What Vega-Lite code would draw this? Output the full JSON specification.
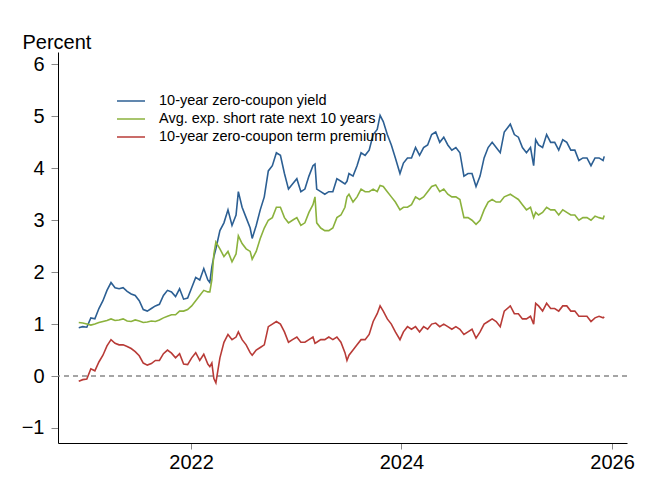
{
  "$schema": "https://vega.github.io/schema/vega-lite/v6.json",
  "width": 569,
  "height": 391,
  "autosize": {"type": "none"},
  "padding": {"left": 58, "top": 52, "right": 43, "bottom": 57},
  "background": "white",
  "config": {
    "view": {"stroke": null},
    "font": "Liberation Sans"
  },
  "layer": [
    {
      "data": {"values": [{"v": 0}]},
      "mark": {"type": "rule", "color": "#888888", "strokeWidth": 1.3, "strokeDash": [5, 4]},
      "encoding": {"y": {"field": "v", "type": "quantitative", "scale": {"domain": [-1.29, 6.24], "nice": false, "zero": false}}}
    },
    {
      "data": {"values": [
        {"d":"2020-12-07","y":0.93,"s":1.03,"p":-0.10},
        {"d":"2020-12-21","y":0.95,"s":1.02,"p":-0.07},
        {"d":"2021-01-04","y":0.94,"s":1.00,"p":-0.06},
        {"d":"2021-01-18","y":1.12,"s":0.98,"p":0.14},
        {"d":"2021-02-01","y":1.10,"s":1.00,"p":0.10},
        {"d":"2021-02-15","y":1.30,"s":1.03,"p":0.27},
        {"d":"2021-03-01","y":1.45,"s":1.05,"p":0.40},
        {"d":"2021-03-15","y":1.65,"s":1.07,"p":0.58},
        {"d":"2021-03-29","y":1.80,"s":1.10,"p":0.70},
        {"d":"2021-04-12","y":1.70,"s":1.07,"p":0.63},
        {"d":"2021-04-26","y":1.68,"s":1.08,"p":0.60},
        {"d":"2021-05-10","y":1.70,"s":1.10,"p":0.60},
        {"d":"2021-05-24","y":1.63,"s":1.06,"p":0.57},
        {"d":"2021-06-07","y":1.58,"s":1.05,"p":0.53},
        {"d":"2021-06-21","y":1.55,"s":1.08,"p":0.47},
        {"d":"2021-07-05","y":1.45,"s":1.06,"p":0.39},
        {"d":"2021-07-19","y":1.28,"s":1.03,"p":0.25},
        {"d":"2021-08-02","y":1.25,"s":1.04,"p":0.21},
        {"d":"2021-08-16","y":1.30,"s":1.06,"p":0.24},
        {"d":"2021-08-30","y":1.35,"s":1.05,"p":0.30},
        {"d":"2021-09-13","y":1.38,"s":1.08,"p":0.30},
        {"d":"2021-09-27","y":1.55,"s":1.12,"p":0.43},
        {"d":"2021-10-11","y":1.65,"s":1.15,"p":0.50},
        {"d":"2021-10-25","y":1.62,"s":1.18,"p":0.44},
        {"d":"2021-11-08","y":1.53,"s":1.18,"p":0.35},
        {"d":"2021-11-22","y":1.68,"s":1.25,"p":0.43},
        {"d":"2021-12-06","y":1.48,"s":1.25,"p":0.23},
        {"d":"2021-12-20","y":1.50,"s":1.28,"p":0.22},
        {"d":"2022-01-03","y":1.70,"s":1.35,"p":0.35},
        {"d":"2022-01-17","y":1.90,"s":1.45,"p":0.45},
        {"d":"2022-01-31","y":1.85,"s":1.55,"p":0.30},
        {"d":"2022-02-14","y":2.07,"s":1.65,"p":0.42},
        {"d":"2022-02-28","y":1.85,"s":1.62,"p":0.23},
        {"d":"2022-03-07","y":1.80,"s":1.62,"p":0.18},
        {"d":"2022-03-14","y":2.10,"s":1.85,"p":0.25},
        {"d":"2022-03-21","y":2.30,"s":2.35,"p":-0.05},
        {"d":"2022-03-28","y":2.45,"s":2.58,"p":-0.13},
        {"d":"2022-04-11","y":2.80,"s":2.45,"p":0.35},
        {"d":"2022-04-25","y":2.95,"s":2.30,"p":0.65},
        {"d":"2022-05-09","y":3.20,"s":2.40,"p":0.80},
        {"d":"2022-05-23","y":2.90,"s":2.20,"p":0.70},
        {"d":"2022-06-06","y":3.10,"s":2.35,"p":0.75},
        {"d":"2022-06-14","y":3.55,"s":2.70,"p":0.85},
        {"d":"2022-06-27","y":3.25,"s":2.55,"p":0.70},
        {"d":"2022-07-11","y":3.05,"s":2.45,"p":0.60},
        {"d":"2022-07-25","y":2.85,"s":2.40,"p":0.45},
        {"d":"2022-08-01","y":2.65,"s":2.25,"p":0.40},
        {"d":"2022-08-15","y":2.90,"s":2.40,"p":0.50},
        {"d":"2022-08-29","y":3.20,"s":2.65,"p":0.55},
        {"d":"2022-09-12","y":3.45,"s":2.85,"p":0.60},
        {"d":"2022-09-26","y":3.95,"s":3.00,"p":0.95},
        {"d":"2022-10-10","y":4.05,"s":3.05,"p":1.00},
        {"d":"2022-10-24","y":4.30,"s":3.25,"p":1.05},
        {"d":"2022-11-07","y":4.25,"s":3.25,"p":1.00},
        {"d":"2022-11-21","y":3.90,"s":3.05,"p":0.85},
        {"d":"2022-12-05","y":3.60,"s":2.95,"p":0.65},
        {"d":"2022-12-19","y":3.70,"s":3.00,"p":0.70},
        {"d":"2023-01-03","y":3.80,"s":3.05,"p":0.75},
        {"d":"2023-01-17","y":3.55,"s":2.90,"p":0.65},
        {"d":"2023-01-31","y":3.60,"s":2.95,"p":0.65},
        {"d":"2023-02-14","y":3.85,"s":3.15,"p":0.70},
        {"d":"2023-02-28","y":4.05,"s":3.30,"p":0.75},
        {"d":"2023-03-07","y":4.08,"s":3.45,"p":0.63},
        {"d":"2023-03-13","y":3.60,"s":2.95,"p":0.65},
        {"d":"2023-03-27","y":3.55,"s":2.85,"p":0.70},
        {"d":"2023-04-10","y":3.50,"s":2.80,"p":0.70},
        {"d":"2023-04-24","y":3.55,"s":2.80,"p":0.75},
        {"d":"2023-05-08","y":3.55,"s":2.85,"p":0.70},
        {"d":"2023-05-22","y":3.80,"s":3.05,"p":0.75},
        {"d":"2023-06-05","y":3.75,"s":3.10,"p":0.65},
        {"d":"2023-06-19","y":3.70,"s":3.25,"p":0.45},
        {"d":"2023-06-26","y":3.75,"s":3.45,"p":0.30},
        {"d":"2023-07-03","y":3.90,"s":3.50,"p":0.40},
        {"d":"2023-07-17","y":3.85,"s":3.35,"p":0.50},
        {"d":"2023-07-31","y":4.05,"s":3.45,"p":0.60},
        {"d":"2023-08-14","y":4.30,"s":3.60,"p":0.70},
        {"d":"2023-08-28","y":4.25,"s":3.55,"p":0.70},
        {"d":"2023-09-11","y":4.35,"s":3.55,"p":0.80},
        {"d":"2023-09-25","y":4.65,"s":3.60,"p":1.05},
        {"d":"2023-10-09","y":4.75,"s":3.55,"p":1.20},
        {"d":"2023-10-19","y":5.02,"s":3.67,"p":1.35},
        {"d":"2023-10-30","y":4.90,"s":3.65,"p":1.25},
        {"d":"2023-11-13","y":4.65,"s":3.55,"p":1.10},
        {"d":"2023-11-27","y":4.45,"s":3.45,"p":1.00},
        {"d":"2023-12-11","y":4.20,"s":3.35,"p":0.85},
        {"d":"2023-12-27","y":3.90,"s":3.20,"p":0.70},
        {"d":"2024-01-08","y":4.10,"s":3.25,"p":0.85},
        {"d":"2024-01-22","y":4.20,"s":3.25,"p":0.95},
        {"d":"2024-02-05","y":4.20,"s":3.30,"p":0.90},
        {"d":"2024-02-19","y":4.40,"s":3.45,"p":0.95},
        {"d":"2024-03-04","y":4.25,"s":3.40,"p":0.85},
        {"d":"2024-03-18","y":4.40,"s":3.45,"p":0.95},
        {"d":"2024-04-01","y":4.45,"s":3.55,"p":0.90},
        {"d":"2024-04-15","y":4.65,"s":3.65,"p":1.00},
        {"d":"2024-04-29","y":4.70,"s":3.68,"p":1.02},
        {"d":"2024-05-13","y":4.50,"s":3.55,"p":0.95},
        {"d":"2024-05-27","y":4.60,"s":3.60,"p":1.00},
        {"d":"2024-06-10","y":4.45,"s":3.50,"p":0.95},
        {"d":"2024-06-24","y":4.35,"s":3.45,"p":0.90},
        {"d":"2024-07-08","y":4.40,"s":3.45,"p":0.95},
        {"d":"2024-07-22","y":4.30,"s":3.40,"p":0.90},
        {"d":"2024-08-05","y":3.85,"s":3.05,"p":0.80},
        {"d":"2024-08-19","y":3.90,"s":3.05,"p":0.85},
        {"d":"2024-09-02","y":3.90,"s":3.00,"p":0.90},
        {"d":"2024-09-16","y":3.65,"s":2.92,"p":0.73},
        {"d":"2024-09-30","y":3.85,"s":3.00,"p":0.85},
        {"d":"2024-10-14","y":4.20,"s":3.20,"p":1.00},
        {"d":"2024-10-28","y":4.40,"s":3.35,"p":1.05},
        {"d":"2024-11-11","y":4.50,"s":3.40,"p":1.10},
        {"d":"2024-11-25","y":4.40,"s":3.35,"p":1.05},
        {"d":"2024-12-09","y":4.30,"s":3.35,"p":0.95},
        {"d":"2024-12-23","y":4.70,"s":3.45,"p":1.25},
        {"d":"2025-01-13","y":4.85,"s":3.50,"p":1.35},
        {"d":"2025-01-27","y":4.65,"s":3.45,"p":1.20},
        {"d":"2025-02-10","y":4.60,"s":3.40,"p":1.20},
        {"d":"2025-02-24","y":4.40,"s":3.30,"p":1.10},
        {"d":"2025-03-10","y":4.30,"s":3.20,"p":1.10},
        {"d":"2025-03-24","y":4.40,"s":3.25,"p":1.15},
        {"d":"2025-04-04","y":4.05,"s":3.05,"p":1.00},
        {"d":"2025-04-11","y":4.55,"s":3.15,"p":1.40},
        {"d":"2025-04-21","y":4.45,"s":3.10,"p":1.35},
        {"d":"2025-05-05","y":4.40,"s":3.15,"p":1.25},
        {"d":"2025-05-19","y":4.65,"s":3.25,"p":1.40},
        {"d":"2025-06-02","y":4.50,"s":3.20,"p":1.30},
        {"d":"2025-06-16","y":4.50,"s":3.20,"p":1.30},
        {"d":"2025-06-30","y":4.35,"s":3.10,"p":1.25},
        {"d":"2025-07-14","y":4.55,"s":3.20,"p":1.35},
        {"d":"2025-07-28","y":4.50,"s":3.15,"p":1.35},
        {"d":"2025-08-11","y":4.35,"s":3.10,"p":1.25},
        {"d":"2025-08-25","y":4.35,"s":3.10,"p":1.25},
        {"d":"2025-09-08","y":4.15,"s":3.00,"p":1.15},
        {"d":"2025-09-22","y":4.20,"s":3.05,"p":1.15},
        {"d":"2025-10-06","y":4.20,"s":3.05,"p":1.15},
        {"d":"2025-10-20","y":4.05,"s":3.00,"p":1.05},
        {"d":"2025-11-03","y":4.20,"s":3.08,"p":1.12},
        {"d":"2025-11-17","y":4.20,"s":3.05,"p":1.15},
        {"d":"2025-12-01","y":4.15,"s":3.03,"p":1.12},
        {"d":"2025-12-05","y":4.23,"s":3.09,"p":1.14}
      ]},
      "transform": [{"fold": ["y", "s", "p"], "as": ["k", "v"]}],
      "mark": {"type": "line", "strokeWidth": 1.6},
      "encoding": {
        "x": {
          "field": "d", "type": "temporal",
          "scale": {"domain": [{"year": 2020, "month": 9, "date": 26}, {"year": 2026, "month": 2, "date": 22}], "nice": false},
          "axis": {
            "title": null,
            "values": [{"year": 2022, "month": 1, "date": 1}, {"year": 2024, "month": 1, "date": 1}, {"year": 2026, "month": 1, "date": 1}],
            "format": "%Y",
            "grid": false,
            "domainColor": "#000000",
            "domainWidth": 1,
            "tickColor": "#888888",
            "tickSize": 6,
            "labelFontSize": 20,
            "labelColor": "#000000",
            "labelPadding": 3,
            "labelFont": "Liberation Sans"
          }
        },
        "y": {
          "field": "v", "type": "quantitative",
          "scale": {"domain": [-1.29, 6.24], "nice": false, "zero": false},
          "axis": {
            "title": "Percent",
            "titleAngle": 0,
            "titleAlign": "left",
            "titleBaseline": "alphabetic",
            "titleX": -36,
            "titleY": -4,
            "titleFontSize": 20,
            "titleFontWeight": "normal",
            "titleColor": "#000000",
            "titleFont": "Liberation Sans",
            "values": [-1, 0, 1, 2, 3, 4, 5, 6],
            "grid": false,
            "domainColor": "#000000",
            "domainWidth": 1,
            "tickColor": "#888888",
            "tickSize": 7,
            "labelFontSize": 20,
            "labelColor": "#000000",
            "labelPadding": 7,
            "labelFont": "Liberation Sans"
          }
        },
        "color": {
          "field": "k", "type": "nominal",
          "scale": {"domain": ["y", "s", "p"], "range": ["#2C5F93", "#8BB23D", "#B83B37"]},
          "legend": {
            "orient": "none",
            "legendX": 65,
            "legendY": 41,
            "title": null,
            "padding": 0,
            "symbolType": "M-2,0H2",
            "symbolSize": 196,
            "symbolStrokeWidth": 1.5,
            "labelOffset": 20,
            "labelFontSize": 14.5,
            "labelFont": "Liberation Sans",
            "labelColor": "#000000",
            "labelLimit": 0,
            "rowPadding": 3,
            "labelExpr": "datum.label == 'y' ? '10-year zero-coupon yield' : datum.label == 's' ? 'Avg. exp. short rate next 10 years' : '10-year zero-coupon term premium'"
          }
        }
      }
    }
  ]
}
